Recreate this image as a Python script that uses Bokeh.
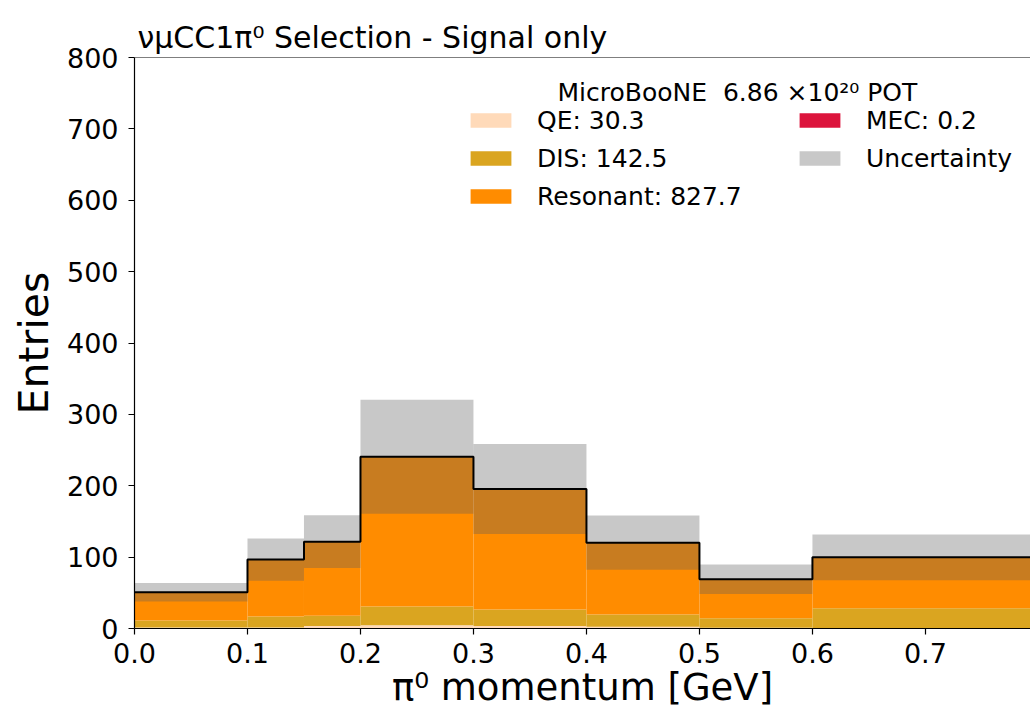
import numpy as np
from bokeh.plotting import figure
from bokeh.models import (Legend, LegendItem, Label, Span, FixedTicker,
                          PrintfTickFormatter, Range1d)
from bokeh.embed import file_html
from bokeh.resources import INLINE

# ---- data ----
bin_edges = [0.0, 0.1, 0.15, 0.2, 0.3, 0.4, 0.5, 0.6, 0.8]
qe = [1.5, 1.5, 3.5, 4.5, 3.5, 2.5, 1.0, 0.5]
dis = [9.7, 15.3, 14.5, 26.3, 23.1, 17.1, 13.4, 27.9]
resonant = [39.6, 79.7, 103.7, 209.7, 168.7, 100.7, 54.6, 71.3]
mec = [0.0, 0.0, 0.0, 0.1, 0.1, 0.0, 0.0, 0.0]
uncertainty = [13.0, 29.5, 37.0, 80.0, 63.0, 38.0, 20.5, 32.0]
legend_labels = ["QE: 30.3", "DIS: 142.5", "Resonant: 827.7", "MEC: 0.2", "Uncertainty"]
x_ticks = [0.0, 0.1, 0.2, 0.3, 0.4, 0.5, 0.6, 0.7]
y_ticks = [0, 100, 200, 300, 400, 500, 600, 700, 800]
title_text = "νμCC1π⁰ Selection - Signal only"
header_text = "MicroBooNE\u00a0 6.86 ×10²⁰ POT"

FONT = "DejaVu Sans"

edges = np.array(bin_edges)
left, right = edges[:-1], edges[1:]
layers = [np.array(qe), np.array(dis), np.array(resonant), np.array(mec)]
colors = ["#ffdab9", "#daa520", "#ff8c00", "#dc143c"]

p = figure(width=1030, height=722, x_range=Range1d(0, 0.793), y_range=Range1d(0, 800),
           output_backend="svg", toolbar_location=None,
           min_border_left=134, min_border_right=0, min_border_top=57, min_border_bottom=94)
p.outline_line_color = None
p.grid.visible = False
p.background_fill_color = "white"

renderers = []
bottom = np.zeros(len(left))
for arr, col in zip(layers, colors):
    top = bottom + arr
    r = p.quad(left=left, right=right, bottom=bottom, top=top, fill_color=col,
               line_color=None)
    renderers.append(r)
    bottom = top

total = bottom
unc = np.array(uncertainty)
r_unc = p.quad(left=left, right=right, bottom=total - unc, top=total + unc,
               fill_color=(94, 94, 94), fill_alpha=0.34, line_color=None)
renderers.append(r_unc)

step_y = np.append(total, total[-1])
p.step(x=edges, y=step_y, mode="after", line_color="black", line_width=2)

# top spine
p.add_layout(Span(location=800, dimension="width", line_color="black", line_width=1.2))

# axes
p.xaxis.ticker = FixedTicker(ticks=x_ticks)
p.yaxis.ticker = FixedTicker(ticks=y_ticks)
p.xaxis.formatter = PrintfTickFormatter(format="%.1f")
p.yaxis.formatter = PrintfTickFormatter(format="%d")
for ax in (p.xaxis, p.yaxis):
    ax.major_label_text_font = FONT
    ax.major_label_text_font_size = "27px"
    ax.major_label_text_color = "black"
    ax.axis_label_text_font = FONT
    ax.axis_label_text_font_style = "normal"
    ax.axis_label_text_color = "black"
    ax.axis_line_color = "black"
    ax.axis_line_width = 1.2
    ax.major_tick_line_color = "black"
    ax.major_tick_line_width = 1.2
    ax.major_tick_out = 6
    ax.major_tick_in = 0
    ax.minor_tick_out = 0
    ax.minor_tick_in = 0
p.xaxis.axis_label = "π⁰ momentum [GeV]"
p.yaxis.axis_label = "Entries"
p.xaxis.axis_label_text_font_size = "37px"
p.yaxis.axis_label_text_font_size = "41px"
p.xaxis.major_label_standoff = 8
p.yaxis.major_label_standoff = 10
p.xaxis.axis_label_standoff = 0
p.yaxis.axis_label_standoff = 6

# title
p.title.text = title_text
p.title.text_font = FONT
p.title.text_font_size = "30px"
p.title.text_font_style = "normal"
p.title.text_color = "black"
p.title.align = "left"
p.title.offset = 3
p.title.standoff = 6

# legend
def make_legend(items, loc):
    return Legend(items=items, location=loc, orientation="vertical",
                  glyph_width=51, glyph_height=18, label_height=30,
                  label_standoff=21, spacing=8, padding=0, margin=0,
                  border_line_color=None, background_fill_alpha=0,
                  label_text_font=FONT, label_text_font_size="25px",
                  label_text_color="black")

items1 = [LegendItem(label=legend_labels[i], renderers=[renderers[i]]) for i in range(3)]
items2 = [LegendItem(label=legend_labels[3], renderers=[renderers[3]]),
          LegendItem(label=legend_labels[4], renderers=[renderers[4]])]
p.add_layout(make_legend(items1, (331, 417)), "center")
p.add_layout(make_legend(items2, (660, 455)), "center")

p.add_layout(Label(x=0.5336, y=750.7, text=header_text, text_align="center",
                   text_baseline="alphabetic", text_font=FONT,
                   text_font_size="25px", text_color="black"))

open("out.html", "w").write(file_html(p, INLINE))
